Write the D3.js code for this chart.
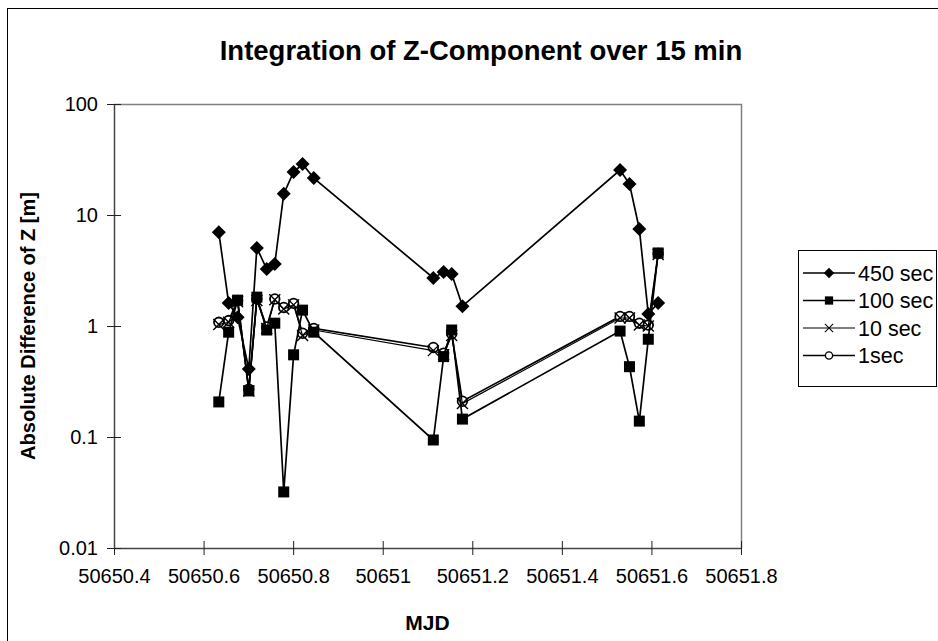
<!DOCTYPE html>
<html>
<head>
<meta charset="utf-8">
<script src="https://cdn.jsdelivr.net/npm/d3@7"></script>
<style>
  body { margin: 0; background: #fff; }
  svg { font-family: "Liberation Sans", Arial, sans-serif; }
</style>
</head>
<body>
<script>
// MJD sample times
const mjd = [50650.634, 50650.656, 50650.676, 50650.701, 50650.719, 50650.741, 50650.759,
  50650.779, 50650.801, 50650.821, 50650.846, 50651.113, 50651.136, 50651.154, 50651.178,
  50651.530, 50651.551, 50651.573, 50651.593, 50651.615];

const sec450 = [7.0, 1.61, 1.2, 0.41, 5.05, 3.26, 3.62, 15.5, 24.4, 28.8, 21.5,
  2.71, 3.06, 2.94, 1.51, 25.4, 19.0, 7.48, 1.28, 1.61];
const sec100 = [0.207, 0.88, 1.71, 0.26, 1.82, 0.92, 1.06, 0.032, 0.55, 1.39, 0.88,
  0.094, 0.53, 0.92, 0.145, 0.9, 0.43, 0.139, 0.76, 4.55];
const sec10 = [1.03, 1.08, 1.65, 0.26, 1.7, 0.95, 1.72, 1.42, 1.55, 0.82, 0.92,
  0.60, 0.55, 0.82, 0.20, 1.18, 1.18, 1.02, 1.0, 4.4];
const sec1 = [1.08, 1.12, 1.7, 0.27, 1.75, 0.98, 1.75, 1.47, 1.6, 0.86, 0.95,
  0.64, 0.57, 0.85, 0.21, 1.22, 1.22, 1.06, 1.02, 4.5];

const seriesNames = ["450 sec", "100 sec", "10 sec", "1sec"];
const xTicks = [50650.4, 50650.6, 50650.8, 50651, 50651.2, 50651.4, 50651.6, 50651.8];
const yTicks = [0.01, 0.1, 1, 10, 100];

const width = 938, height = 641;
const plot = { left: 114, right: 741, top: 104, bottom: 548 };

const svg = d3.select("body").append("svg")
  .attr("width", width)
  .attr("height", height);

// outer chart border
svg.append("rect")
  .attr("x", 7.5).attr("y", 8.5)
  .attr("width", width + 20).attr("height", height + 20)
  .attr("fill", "none").attr("stroke", "#000").attr("stroke-width", 1);

const x = d3.scaleLinear().domain([50650.4, 50651.8]).range([plot.left, plot.right]);
const y = d3.scaleLog().domain([0.01, 100]).range([plot.bottom, plot.top]);

// plot area frame (top/right)
svg.append("path")
  .attr("d", `M${plot.left},${plot.top + 0.5}H${plot.right + 0.5}V${plot.bottom}`)
  .attr("fill", "none").attr("stroke", "#808080").attr("stroke-width", 1.5);

const xAxis = d3.axisBottom(x).tickValues(xTicks).tickSize(0).tickPadding(21)
  .tickFormat(d => d3.format("")(+d.toFixed(1)));
const gx = svg.append("g").attr("transform", `translate(0,${plot.bottom})`).call(xAxis);
gx.select(".domain").attr("stroke", "#444").attr("stroke-width", 1.5);
gx.selectAll(".tick").append("line").attr("y1", -7).attr("y2", 7).attr("stroke", "#222");
gx.selectAll("text").attr("font-size", 20).attr("fill", "#000");

const yAxis = d3.axisLeft(y).tickValues(yTicks).tickSize(0).tickPadding(16)
  .tickFormat(d => String(d));
const gy = svg.append("g").attr("transform", `translate(${plot.left},0)`).call(yAxis);
gy.select(".domain").attr("stroke", "#444").attr("stroke-width", 1.5);
gy.selectAll(".tick").append("line").attr("x1", -7).attr("x2", 7).attr("stroke", "#222");
gy.selectAll("text").attr("font-size", 20).attr("fill", "#000");

// titles
svg.append("text")
  .attr("x", 481).attr("y", 60)
  .attr("text-anchor", "middle")
  .attr("font-size", 27.5).attr("font-weight", "bold")
  .text("Integration of Z-Component over 15 min");

svg.append("text")
  .attr("x", (plot.left + plot.right) / 2).attr("y", 630)
  .attr("text-anchor", "middle")
  .attr("font-size", 21).attr("font-weight", "bold")
  .text("MJD");

svg.append("text")
  .attr("transform", `translate(35,${(plot.top + plot.bottom) / 2}) rotate(-90)`)
  .attr("text-anchor", "middle")
  .attr("font-size", 20).attr("font-weight", "bold")
  .text("Absolute Difference of Z [m]");

// marker painters
const drawMarker = (g, kind) => {
  if (kind === "diamond") {
    g.append("path").attr("d", "M0,-7L7,0L0,7L-7,0Z").attr("fill", "#000");
  } else if (kind === "square") {
    g.append("rect").attr("x", -5.5).attr("y", -5.5).attr("width", 11).attr("height", 11).attr("fill", "#000");
  } else if (kind === "cross") {
    g.append("path").attr("d", "M-5.5,-5.5L5.5,5.5M-5.5,5.5L5.5,-5.5").attr("stroke", "#000").attr("stroke-width", 1.4);
  } else {
    g.append("circle").attr("r", 4.8).attr("fill", "#fff").attr("stroke", "#000").attr("stroke-width", 1.8);
  }
};

const series = [
  { name: seriesNames[0], values: sec450, marker: "diamond", lw: 1.7 },
  { name: seriesNames[1], values: sec100, marker: "square", lw: 1.7 },
  { name: seriesNames[2], values: sec10, marker: "cross", lw: 1.2 },
  { name: seriesNames[3], values: sec1, marker: "circle", lw: 1.7 }
];

const line = d3.line().x(d => x(d[0])).y(d => y(d[1]));

// draw in reverse so 450 sec sits on top
series.slice().reverse().forEach(s => {
  const pts = mjd.map((t, i) => [t, s.values[i]]);
  svg.append("path")
    .attr("d", line(pts))
    .attr("fill", "none")
    .attr("stroke", "#000")
    .attr("stroke-width", s.lw);
  pts.forEach(p => {
    const g = svg.append("g").attr("transform", `translate(${x(p[0])},${y(p[1])})`);
    drawMarker(g, s.marker);
  });
});

// legend
const legend = svg.append("g");
legend.append("rect")
  .attr("x", 798.5).attr("y", 250.5)
  .attr("width", 138).attr("height", 136)
  .attr("fill", "#fff").attr("stroke", "#000").attr("stroke-width", 1);

series.forEach((s, i) => {
  const ly = 273 + i * 27.5;
  legend.append("line")
    .attr("x1", 803).attr("x2", 855).attr("y1", ly).attr("y2", ly)
    .attr("stroke", "#000").attr("stroke-width", s.lw);
  const g = legend.append("g").attr("transform", `translate(829,${ly}) scale(0.75)`);
  drawMarker(g, s.marker);
  legend.append("text")
    .attr("x", 858).attr("y", ly + 7.5)
    .attr("font-size", 21.5)
    .text(s.name);
});
</script>
</body>
</html>
